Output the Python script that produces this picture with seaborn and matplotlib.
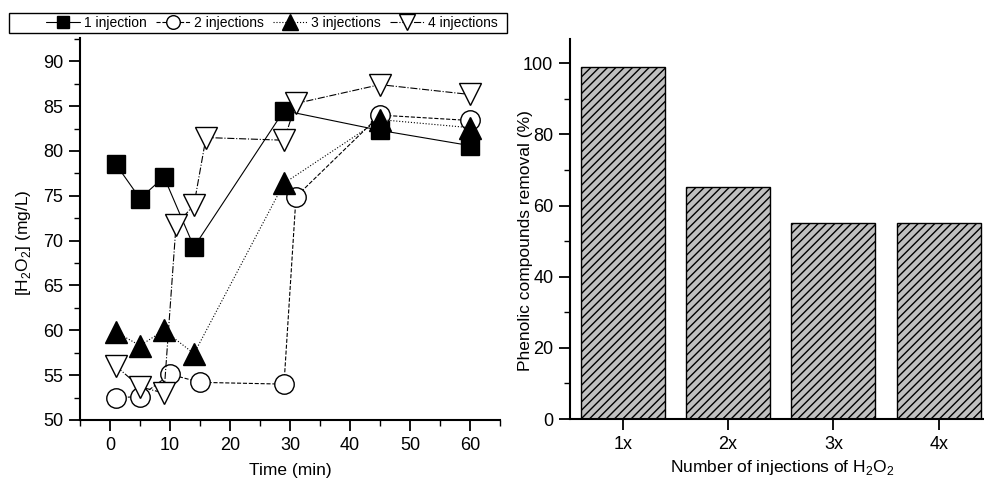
import matplotlib
matplotlib.use('Agg')
import matplotlib.pyplot as plt
import seaborn as sns
import pandas as pd
from matplotlib.patches import Rectangle
from matplotlib.ticker import MultipleLocator

sns.set_style('ticks')
plt.rcParams['font.family'] = ['Liberation Sans', 'DejaVu Sans']
plt.rcParams['mathtext.fontset'] = 'custom'
plt.rcParams['mathtext.rm'] = 'Liberation Sans'
plt.rcParams['hatch.linewidth'] = 1.0
plt.rcParams['hatch.color'] = '#222222'
plt.rcParams['text.color'] = 'black'
plt.rcParams['axes.labelcolor'] = 'black'

# H2O2 concentration over time (mg/L)
t_1inj = [1, 5, 9, 14, 29, 45, 60]
h2o2_1inj = [78.5, 74.7, 77.1, 69.3, 84.5, 82.3, 80.6]

t_2inj = [1, 5, 10, 15, 29, 31, 45, 60]
h2o2_2inj = [52.5, 52.6, 55.1, 54.2, 54.0, 74.9, 84.0, 83.4]

t_3inj = [1, 5, 9, 14, 29, 45, 60]
h2o2_3inj = [59.8, 58.3, 60.0, 57.4, 76.4, 83.5, 82.6]

t_4inj = [1, 5, 9, 11, 14, 16, 29, 31, 45, 60]
h2o2_4inj = [56.0, 53.7, 53.0, 71.7, 74.0, 81.5, 81.2, 85.3, 87.4, 86.3]

# phenolic compounds removal (%)
injections = ['1x', '2x', '3x', '4x']
removal = [98.9, 65.3, 55.0, 55.2]

fig = plt.figure(figsize=(9.84, 4.78), dpi=100)
ax1 = fig.add_axes([80 / 984, 58 / 478, 420 / 984, 382 / 478])
ax2 = fig.add_axes([570 / 984, 59 / 478, 414 / 984, 380 / 478])

series = [
    (t_1inj, h2o2_1inj, '1 injection', 's', '-', 'black', 13),
    (t_2inj, h2o2_2inj, '2 injections', 'o', '--', 'white', 14),
    (t_3inj, h2o2_3inj, '3 injections', '^', ':', 'black', 16),
    (t_4inj, h2o2_4inj, '4 injections', 'v', '-.', 'white', 16),
]
for x, y, lab, mk, ls, fc, ms in series:
    sns.lineplot(x=x, y=y, ax=ax1, label=lab, color='black', linestyle=ls,
                 linewidth=0.8, marker=mk, markersize=ms, markerfacecolor=fc,
                 markeredgecolor='black', markeredgewidth=1.0)

ax1.set_xlim(-5, 65)
ax1.set_ylim(50, 92.6)
ax1.xaxis.set_major_locator(MultipleLocator(10))
ax1.xaxis.set_minor_locator(MultipleLocator(5))
ax1.yaxis.set_major_locator(MultipleLocator(5))
ax1.yaxis.set_minor_locator(MultipleLocator(2.5))
ax1.set_xlabel('Time (min)', fontsize=12.5)
ax1.set_ylabel(r'[H$_\mathregular{2}$O$_\mathregular{2}$] (mg/L)', fontsize=12.5)
ax1.xaxis.set_label_coords(0.5, -43 / 382)
ax1.yaxis.set_label_coords(-47 / 420, 0.463)
sns.despine(ax=ax1)

handles, labels = ax1.get_legend_handles_labels()
ax1.get_legend().remove()
fig.legend(handles, labels, loc='center', ncol=4, frameon=False,
           bbox_to_anchor=(272 / 984, 1 - 23 / 478), fontsize=10,
           markerscale=0.7, handlelength=2.4, columnspacing=0.7,
           handletextpad=0.3)
fig.patches.append(Rectangle((9 / 984, 1 - 33 / 478), 498 / 984, 20 / 478,
                             transform=fig.transFigure, fill=False,
                             edgecolor='black', linewidth=1.0))

df = pd.DataFrame({'injections': injections, 'removal': removal})
sns.barplot(data=df, x='injections', y='removal', ax=ax2, color='#c0c0c0',
            width=0.8, edgecolor='black', linewidth=1.0, hatch='////',
            saturation=1)
ax2.set_xlim(-0.5, 3.43)
ax2.set_ylim(0, 106.8)
ax2.yaxis.set_major_locator(MultipleLocator(20))
ax2.yaxis.set_minor_locator(MultipleLocator(10))
ax2.set_xlabel(r'Number of injections of H$_\mathregular{2}$O$_\mathregular{2}$', fontsize=12.5)
ax2.set_ylabel('Phenolic compounds removal (%)', fontsize=12.5)
ax2.xaxis.set_label_coords(0.513, -39 / 380)
ax2.yaxis.set_label_coords(-37 / 414, 0.47)
sns.despine(ax=ax2)

for ax in (ax1, ax2):
    for s in ('left', 'bottom'):
        ax.spines[s].set_linewidth(1.5)
        ax.spines[s].set_color('black')
    ax.tick_params(which='major', direction='out', length=8, width=1.3,
                   labelsize=13, colors='black', pad=4)
    ax.tick_params(which='minor', direction='out', length=4, width=1.0,
                   colors='black')

fig.savefig('out.png', dpi=100)
